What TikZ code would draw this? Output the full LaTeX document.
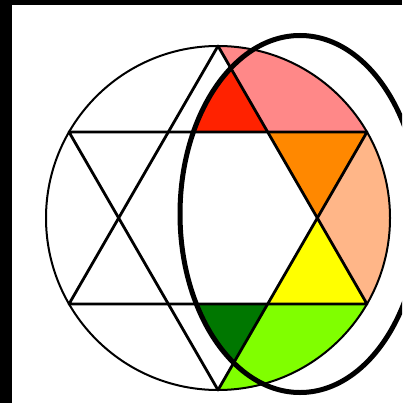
\documentclass[tikz,border=0pt]{standalone}
\usepackage{tikz}

\definecolor{hexred}{RGB}{255,34,0}
\definecolor{hexpink}{RGB}{255,136,136}
\definecolor{hexorange}{RGB}{255,136,0}
\definecolor{hexpeach}{RGB}{255,182,136}
\definecolor{hexyellow}{RGB}{255,255,0}
\definecolor{hexlime}{RGB}{128,255,0}
\definecolor{hexgreen}{RGB}{0,119,0}

\begin{document}
\begin{tikzpicture}[x=1pt, y=-1pt]
    % Line styles
    \tikzstyle{ringline} = [draw=black, line width=2pt]
    \tikzstyle{starline} = [draw=black, line width=2.8pt, line join=round]
    \tikzstyle{lensline} = [draw=black, line width=5pt]

    % Frame
    \useasboundingbox (0,0) rectangle (402,403);
    \clip (0,0) rectangle (402,403);
    \fill[black] (0,0) rectangle (402,403);
    \fill[white] (12,5) rectangle (402,403);

    % Star points on the ring
    \coordinate (ctr) at (218,218);
    \coordinate (lens) at (300,214);
    \coordinate (top) at (218,46);
    \coordinate (bottom) at (218,390);
    \coordinate (upright) at (367,132);
    \coordinate (lowright) at (367,304);
    \coordinate (upleft) at (69,132);
    \coordinate (lowleft) at (69,304);

    % Inner hexagon corners
    \coordinate (ir) at (317.3,218);
    \coordinate (iur) at (267.7,132);
    \coordinate (iul) at (168.3,132);
    \coordinate (ilr) at (267.7,304);
    \coordinate (ill) at (168.3,304);

    % Colour fields
    \begin{scope}
        \clip (ctr) circle[radius=172];
        \fill[hexpink] (top) -- (iur) -- (upright) -- (420,132) -- (420,0) -- (218,0) -- cycle;
        \fill[hexpeach] (upright) -- (ir) -- (lowright) -- (420,304) -- (420,132) -- cycle;
        \fill[hexlime] (lowright) -- (ilr) -- (bottom) -- (218,403) -- (420,403) -- (420,304) -- cycle;
        \fill[hexorange] (iur) -- (upright) -- (ir) -- cycle;
        \fill[hexyellow] (ir) -- (lowright) -- (ilr) -- cycle;
        \clip (lens) ellipse[x radius=120, y radius=178.5];
        \fill[hexred] (top) -- (iul) -- (iur) -- cycle;
        \fill[hexgreen] (bottom) -- (ill) -- (ilr) -- cycle;
    \end{scope}

    % Ring, star and lens
    \draw[ringline] (ctr) circle[radius=172];
    \draw[starline] (top) -- (lowright) -- (lowleft) -- cycle;
    \draw[starline] (bottom) -- (upright) -- (upleft) -- cycle;
    \draw[lensline] (lens) ellipse[x radius=120, y radius=178.5];
\end{tikzpicture}
\end{document}
